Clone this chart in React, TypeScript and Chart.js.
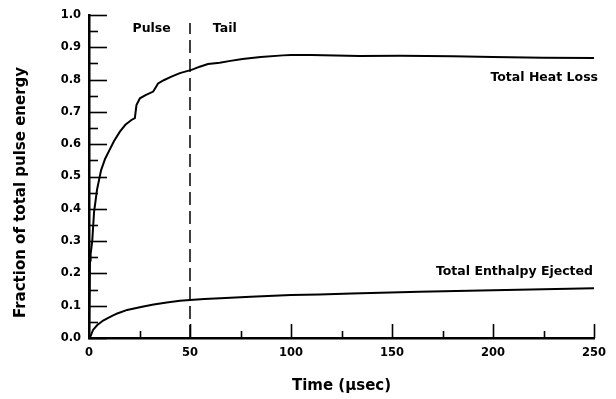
import React, { useEffect, useRef } from "react";
import { Chart, registerables } from "chart.js";

Chart.register(...registerables);

// ---- data ----
const heatTime = [0, 0.5, 0.8, 1.6, 2.5, 4, 6, 8, 10, 12.4, 15.3, 18, 21, 22.7, 23.5, 25.2, 28, 31.8, 34.2, 37, 40.8, 45, 50.7, 52, 54.8, 58.9, 64.7, 70, 76, 85, 96, 100, 110, 134, 154, 180, 200, 225, 250];
const heatLoss = [0, 0.24, 0.26, 0.3, 0.39, 0.46, 0.52, 0.555, 0.58, 0.61, 0.639, 0.66, 0.675, 0.681, 0.721, 0.742, 0.752, 0.763, 0.788, 0.798, 0.809, 0.82, 0.83, 0.833, 0.84, 0.848, 0.852, 0.858, 0.864, 0.87, 0.875, 0.876, 0.876, 0.873, 0.874, 0.872, 0.87, 0.868, 0.867];

const enthalpyTime = [0, 0.8, 2, 4.1, 7, 10.7, 14, 18.9, 26.3, 32, 38.5, 45, 50, 57, 65, 80, 100, 114, 130, 163.5, 200, 225, 250];
const enthalpy = [0, 0.006, 0.025, 0.04, 0.054, 0.066, 0.076, 0.087, 0.097, 0.104, 0.11, 0.115, 0.118, 0.121, 0.123, 0.128, 0.133, 0.135, 0.138, 0.143, 0.148, 0.151, 0.154];

const xTickValues = [0, 50, 100, 150, 200, 250];
const yTickValues = [0, 0.1, 0.2, 0.3, 0.4, 0.5, 0.6, 0.7, 0.8, 0.9, 1.0];

const boundaryTime = 50;
const boundaryTop = 0.975;
const phaseLabels = ["Pulse", "Tail"];
const phaseLabelTimes = [31, 67.2];
const phaseLabelLevel = 0.958;
const curveLabels = ["Total Heat Loss", "Total Enthalpy Ejected"];
const curveLabelTimes = [252, 249.5];
const curveLabelLevels = [0.806, 0.206];

const xTitle = "Time (\u00b5sec)";
const yTitle = "Fraction of total pulse energy";

const FONT = "'DejaVu Sans', 'Liberation Sans', sans-serif";

const decorPlugin = {
  id: "decor",
  afterDraw(chart: any) {
    const { ctx, chartArea, scales } = chart;
    const x = scales.x;
    const y = scales.y;
    ctx.save();
    ctx.strokeStyle = "#000";
    ctx.fillStyle = "#000";
    ctx.lineWidth = 1.6;
    // inward y ticks (major + minor)
    for (let i = 0; i <= 20; i++) {
      const v = i * 0.05;
      const py = Math.round(y.getPixelForValue(v)) + 0.5;
      const len = i % 2 === 0 ? 18 : 9;
      ctx.beginPath();
      ctx.moveTo(chartArea.left, py);
      ctx.lineTo(chartArea.left + len, py);
      ctx.stroke();
    }
    // inward x ticks
    for (let i = 1; i <= 10; i++) {
      const t = i * 25;
      const px = Math.round(x.getPixelForValue(t)) + 0.5;
      const len = i % 2 === 0 ? 14 : 7;
      ctx.beginPath();
      ctx.moveTo(px, chartArea.bottom);
      ctx.lineTo(px, chartArea.bottom - len);
      ctx.stroke();
    }
    // annotations
    ctx.font = `bold 12.5px ${FONT}`;
    ctx.textBaseline = "middle";
    ctx.textAlign = "center";
    phaseLabels.forEach((s, i) => {
      ctx.fillText(s, x.getPixelForValue(phaseLabelTimes[i]), y.getPixelForValue(phaseLabelLevel));
    });
    ctx.textAlign = "right";
    curveLabels.forEach((s, i) => {
      ctx.fillText(s, x.getPixelForValue(curveLabelTimes[i]), y.getPixelForValue(curveLabelLevels[i]));
    });
    // y title
    ctx.font = `bold 15px ${FONT}`;
    ctx.textAlign = "center";
    ctx.translate(21.5, 192.5);
    ctx.rotate(-Math.PI / 2);
    ctx.fillText(yTitle, 0, 0);
    ctx.restore();
  },
};

export default function App() {
  const ref = useRef<HTMLCanvasElement | null>(null);
  useEffect(() => {
    if (!ref.current) return;
    const chart = new Chart(ref.current, {
      type: "scatter",
      data: {
        datasets: [
          {
            label: curveLabels[0],
            data: heatTime.map((t, i) => ({ x: t, y: heatLoss[i] })),
            showLine: true,
            borderColor: "#000",
            borderWidth: 2,
            pointRadius: 0,
            tension: 0,
            clip: false as any,
          },
          {
            label: curveLabels[1],
            data: enthalpyTime.map((t, i) => ({ x: t, y: enthalpy[i] })),
            showLine: true,
            borderColor: "#000",
            borderWidth: 2,
            pointRadius: 0,
            tension: 0,
            clip: false as any,
          },
          {
            label: "boundary",
            data: [
              { x: boundaryTime, y: 0 },
              { x: boundaryTime, y: boundaryTop },
            ],
            showLine: true,
            borderColor: "#000",
            borderWidth: 1.5,
            borderDash: [13, 6],
            pointRadius: 0,
          },
        ],
      },
      options: {
        animation: false,
        responsive: false,
        devicePixelRatio: 1,
        layout: { padding: { top: 15, right: 22, left: 0, bottom: 0 } },
        plugins: {
          legend: { display: false },
          tooltip: { enabled: false },
        },
        scales: {
          x: {
            type: "linear",
            min: 0,
            max: 250,
            afterFit: (s: any) => {
              s.height = 61;
            },
            afterBuildTicks: (s: any) => {
              s.ticks = xTickValues.map((v) => ({ value: v }));
            },
            grid: { display: false, drawTicks: false },
            border: { display: true, color: "#000", width: 2.5 },
            ticks: {
              padding: 8,
              color: "#000",
              font: { family: FONT, weight: "bold", size: 11.5 },
              maxRotation: 0,
              callback: (v: any) => String(v),
            },
            title: {
              display: true,
              text: xTitle,
              color: "#000",
              font: { family: FONT, weight: "bold", size: 15 },
              padding: { top: 0, bottom: 4 },
            },
          },
          y: {
            type: "linear",
            min: 0,
            max: 1.0,
            afterFit: (s: any) => {
              s.width = 89;
            },
            afterBuildTicks: (s: any) => {
              s.ticks = yTickValues.map((v) => ({ value: v }));
            },
            grid: { display: false, drawTicks: false },
            border: { display: true, color: "#000", width: 2.5 },
            ticks: {
              padding: 8,
              color: "#000",
              font: { family: FONT, weight: "bold", size: 11.5 },
              callback: (v: any) => Number(v).toFixed(1),
            },
          },
        },
      },
      plugins: [decorPlugin],
    });
    return () => chart.destroy();
  }, []);
  return (
    <div style={{ position: "fixed", left: 0, top: 0, width: 616, height: 399, background: "#fff" }}>
      <canvas ref={ref} width={616} height={399} style={{ display: "block" }} />
    </div>
  );
}
